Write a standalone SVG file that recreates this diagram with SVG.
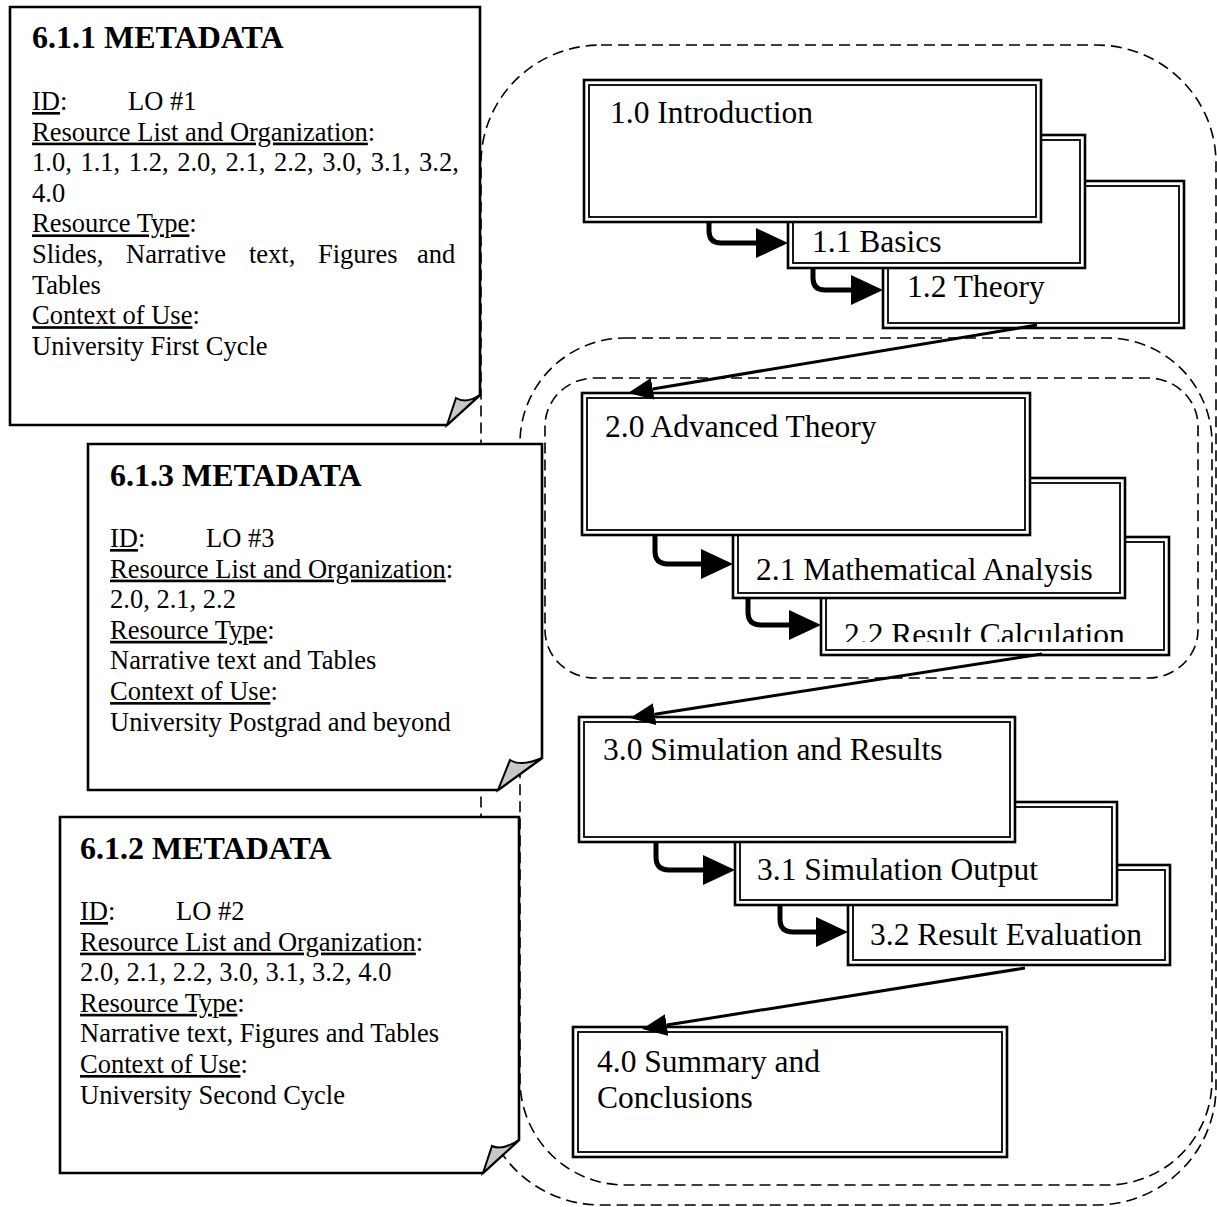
<svg xmlns="http://www.w3.org/2000/svg" width="1217" height="1207" viewBox="0 0 1217 1207">
<style>
text{font-family:"Liberation Serif","Times New Roman",serif;fill:#000}
.t{font-size:26.5px}
.h{font-size:32px;font-weight:bold}
.n{font-size:31.5px}
.u{text-decoration:underline}
.dash{fill:none;stroke:#000;stroke-width:1.6;stroke-dasharray:11 6}
.bo{fill:#fff;stroke:#000;stroke-width:2.6}
.bi{fill:none;stroke:#000;stroke-width:1.8}
.note{fill:#fff;stroke:#000;stroke-width:2.6;stroke-linejoin:miter}
.fold{fill:#c8c8c8;stroke:#000;stroke-width:2}
.curve{fill:none;stroke:#000;stroke-width:5}
.line{fill:none;stroke:#000;stroke-width:3}
</style>
<defs>
<marker id="bigHead" viewBox="0 0 32 30" refX="0" refY="15" markerWidth="32" markerHeight="30" markerUnits="userSpaceOnUse" orient="auto">
<path d="M0,0 L32,15 L0,30 Z" fill="#000"/>
</marker>
<marker id="head" viewBox="0 0 25 22" refX="0" refY="11" markerWidth="25" markerHeight="22" markerUnits="userSpaceOnUse" orient="auto">
<path d="M0,0 L25,11 L0,22 Z" fill="#000"/>
</marker>
<clipPath id="clip22"><rect x="821" y="537" width="348" height="105"/></clipPath>
</defs>
<rect width="1217" height="1207" fill="#fff"/>

<g id="groups">
<rect id="lo1-region" class="dash" x="481" y="45" width="735" height="1160" rx="120" ry="118"/>
<rect id="lo2-region" class="dash" x="520" y="338" width="692" height="847" rx="105" ry="105"/>
<rect id="lo3-region" class="dash" x="545" y="378" width="653" height="300" rx="50" ry="48"/>
</g>

<g id="node-1-2">
<rect class="bo" x="883" y="181" width="301" height="147"/>
<rect class="bi" x="888" y="186" width="291" height="137"/>
<text class="n" x="907" y="297">1.2 Theory</text>
</g>
<g id="node-1-1">
<rect class="bo" x="788" y="135" width="297" height="133"/>
<rect class="bi" x="793" y="140" width="287" height="123"/>
<text class="n" x="812" y="252">1.1 Basics</text>
</g>
<g id="node-1-0">
<rect class="bo" x="584" y="80" width="457" height="142"/>
<rect class="bi" x="589" y="85" width="447" height="132"/>
<text class="n" x="610" y="123">1.0 Introduction</text>
</g>

<g id="node-2-2">
<rect class="bo" x="821" y="537" width="348" height="118"/>
<rect class="bi" x="826" y="542" width="338" height="108"/>
<text class="n" x="844" y="645" clip-path="url(#clip22)">2.2 Result Calculation</text>
</g>
<g id="node-2-1">
<rect class="bo" x="733" y="478" width="392" height="120"/>
<rect class="bi" x="738" y="483" width="382" height="110"/>
<text class="n" x="756" y="580">2.1 Mathematical Analysis</text>
</g>
<g id="node-2-0">
<rect class="bo" x="582" y="393" width="448" height="142"/>
<rect class="bi" x="587" y="398" width="438" height="132"/>
<text class="n" x="605" y="437">2.0 Advanced Theory</text>
</g>

<g id="node-3-2">
<rect class="bo" x="848" y="865" width="322" height="100"/>
<rect class="bi" x="853" y="870" width="312" height="90"/>
<text class="n" x="870" y="945">3.2 Result Evaluation</text>
</g>
<g id="node-3-1">
<rect class="bo" x="735" y="802" width="382" height="103"/>
<rect class="bi" x="740" y="807" width="372" height="93"/>
<text class="n" x="757" y="880">3.1 Simulation Output</text>
</g>
<g id="node-3-0">
<rect class="bo" x="579" y="717" width="436" height="125"/>
<rect class="bi" x="584" y="722" width="426" height="115"/>
<text class="n" x="603" y="760">3.0 Simulation and Results</text>
</g>

<g id="node-4-0">
<rect class="bo" x="573" y="1027" width="434" height="130"/>
<rect class="bi" x="578" y="1032" width="424" height="120"/>
<text class="n" x="597" y="1072">4.0 Summary and</text>
<text class="n" x="597" y="1108">Conclusions</text>
</g>

<g id="connectors">
<path class="curve" d="M709,222 V231 Q709,243 721,243 H756" marker-end="url(#bigHead)"/>
<path class="curve" d="M813,268 V278 Q813,290 825,290 H851" marker-end="url(#bigHead)"/>
<path class="curve" d="M655,535 V551 Q655,564 668,564 H701" marker-end="url(#bigHead)"/>
<path class="curve" d="M748,598 V612 Q748,625 761,625 H789" marker-end="url(#bigHead)"/>
<path class="curve" d="M656,842 V857 Q656,870 669,870 H703" marker-end="url(#bigHead)"/>
<path class="curve" d="M780,905 V919 Q780,932 793,932 H816" marker-end="url(#bigHead)"/>
<path class="line" d="M1037,325 L652.7,388.9" marker-end="url(#head)"/>
<path class="line" d="M1042,654 L654.7,714.2" marker-end="url(#head)"/>
<path class="line" d="M1025,968 L666.7,1025.1" marker-end="url(#head)"/>
</g>

<g id="meta-6-1-1">
<path class="note" d="M10,7 H480 V395 L447,425 H10 Z"/>
<path class="fold" d="M447,425 L456,398 Q466,404 480,395 Z"/>
<text class="h" x="32" y="48">6.1.1 METADATA</text>
<text class="t" x="32" y="110"><tspan class="u">ID</tspan>:</text>
<text class="t" x="128" y="110">LO #1</text>
<text class="t" x="32" y="140.6"><tspan class="u">Resource List and Organization</tspan>:</text>
<text class="t" x="32" y="171.2" word-spacing="2">1.0, 1.1, 1.2, 2.0, 2.1, 2.2, 3.0, 3.1, 3.2,</text>
<text class="t" x="32" y="201.8">4.0</text>
<text class="t" x="32" y="232.4"><tspan class="u">Resource Type</tspan>:</text>
<text class="t" y="263"><tspan x="32">Slides,</tspan><tspan x="126">Narrative</tspan><tspan x="249">text,</tspan><tspan x="318">Figures</tspan><tspan x="417">and</tspan></text>
<text class="t" x="32" y="293.6">Tables</text>
<text class="t" x="32" y="324.2"><tspan class="u">Context of Use</tspan>:</text>
<text class="t" x="32" y="354.8">University First Cycle</text>
</g>

<g id="meta-6-1-3">
<path class="note" d="M88,444 H542 V758 L498,790 H88 Z"/>
<path class="fold" d="M498,790 L510,760 Q521,767 542,758 Z"/>
<text class="h" x="110" y="486">6.1.3 METADATA</text>
<text class="t" x="110" y="547"><tspan class="u">ID</tspan>:</text>
<text class="t" x="206" y="547">LO #3</text>
<text class="t" x="110" y="577.6"><tspan class="u">Resource List and Organization</tspan>:</text>
<text class="t" x="110" y="608.2">2.0, 2.1, 2.2</text>
<text class="t" x="110" y="638.8"><tspan class="u">Resource Type</tspan>:</text>
<text class="t" x="110" y="669.4">Narrative text and Tables</text>
<text class="t" x="110" y="700"><tspan class="u">Context of Use</tspan>:</text>
<text class="t" x="110" y="730.6">University Postgrad and beyond</text>
</g>

<g id="meta-6-1-2">
<path class="note" d="M60,817 H519 V1140 L483,1173 H60 Z"/>
<path class="fold" d="M483,1173 L492,1146 Q502,1151 519,1140 Z"/>
<text class="h" x="80" y="859">6.1.2 METADATA</text>
<text class="t" x="80" y="920"><tspan class="u">ID</tspan>:</text>
<text class="t" x="176" y="920">LO #2</text>
<text class="t" x="80" y="950.6"><tspan class="u">Resource List and Organization</tspan>:</text>
<text class="t" x="80" y="981.2">2.0, 2.1, 2.2, 3.0, 3.1, 3.2, 4.0</text>
<text class="t" x="80" y="1011.8"><tspan class="u">Resource Type</tspan>:</text>
<text class="t" x="80" y="1042.4">Narrative text, Figures and Tables</text>
<text class="t" x="80" y="1073"><tspan class="u">Context of Use</tspan>:</text>
<text class="t" x="80" y="1103.6">University Second Cycle</text>
</g>
</svg>
